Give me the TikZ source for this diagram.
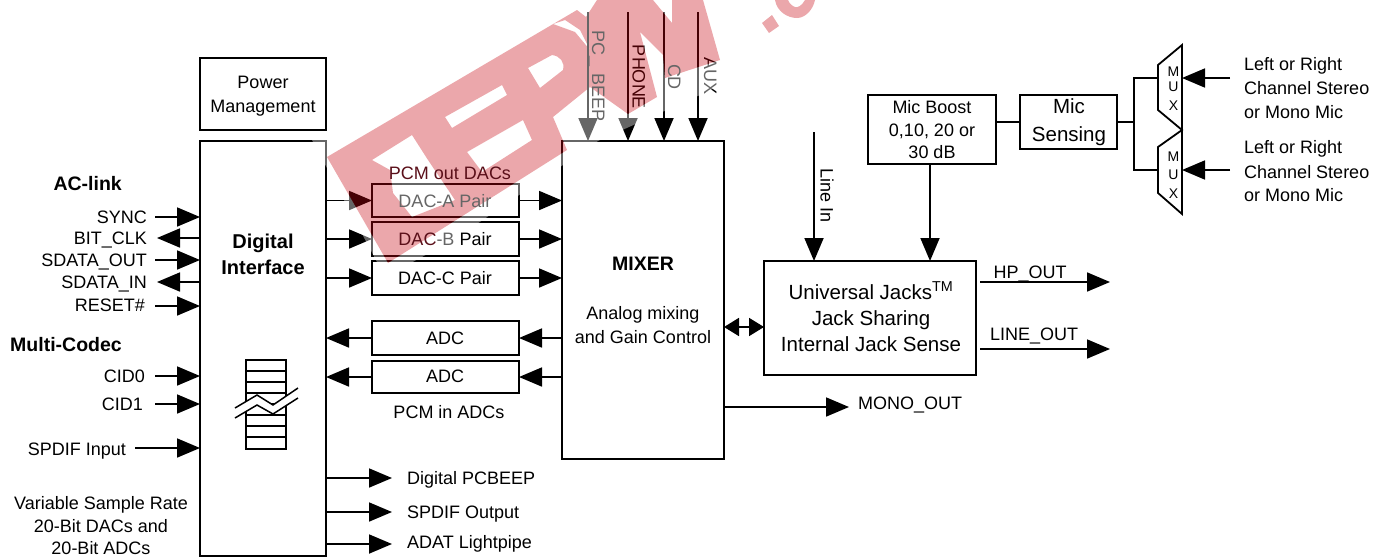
\documentclass[tikz,border=0pt]{standalone}
\usepackage{fontspec}
\setmainfont{Liberation Sans}
\usetikzlibrary{arrows.meta}
\newcommand{\fs}[1]{\fontsize{#1}{#1}\selectfont}
\definecolor{wmred}{RGB}{200,5,15}
\definecolor{dkred}{RGB}{90,15,25}
\definecolor{hazed}{RGB}{102,102,102}
\tikzset{
  x=1pt,y=-1pt,
  line/.style={draw=black,line width=1.8pt},
  arr/.style={line,-{Triangle[length=23pt,width=19pt]}},
  boxn/.style={draw=black,line width=1.8pt,inner sep=0pt,outer sep=0pt},
  lab/.style={inner sep=0pt,font=\fs{18},text height=13pt,text depth=0pt},
  blab/.style={inner sep=0pt,font=\fs{19.5}\bfseries,text height=14pt,text depth=0pt},
  big/.style={inner sep=0pt,font=\fs{20.5},align=center},
  multi/.style={inner sep=0pt,font=\fs{18},align=center},
  vert/.style={inner sep=0pt,font=\fs{18},rotate=-90,text height=13pt,text depth=0pt},
}
\newcommand{\bx}[5]{\node[boxn,minimum width=#3-#1,minimum height=#4-#2,anchor=north west] (#5) at (#1,#2) {};}
\newcommand{\wmletters}{
 (327,157) -- (577,10) -- (586,17) -- (597,0) -- (653,0) -- (672,23) -- (672,0) -- (703,0) -- (720,60) -- (665,78) -- (663,55) -- (640,32) -- (657,97) -- (628,114) -- (590,87) -- (553,117) -- (567,150) -- (388,263) -- cycle
 (372,160) -- (412,135) -- (428,160) -- (455,200) -- (412,217) -- (393,193) -- (390,170) -- cycle
 (445,117) -- (502,85) -- (507,95) -- (452,128) -- cycle
 (467,152) -- (523,120) -- (532,140) -- (482,172) -- cycle
 (528,68) -- (552,55) .. controls (560,56) and (565,62) .. (563,70) -- (540,88) -- cycle
 (553,24) -- (565,20) -- (580,30) -- (590,50) -- (575,32) -- cycle
 (762,23) -- (772,15) -- (779,26) -- (769,33) -- cycle
 (775,0) .. controls (777,12) and (788,18) .. (797,18) .. controls (805,18) and (813,10) .. (815,0) -- (805,0) .. controls (802,6) and (797,8) .. (795,7) .. controls (792,6) and (789,3) .. (788,0) -- cycle
}
\begin{document}
\begin{tikzpicture}
\useasboundingbox (0,0) rectangle (1386,557);
\fill[white] (0,0) rectangle (1386,557);
% boxes
\bx{200}{58}{326}{130}{pm}
\bx{200}{141}{326}{556}{dig}
\bx{562}{141}{724}{459}{mix}
\bx{372}{184}{519}{217}{daca}
\bx{372}{222}{519}{256}{dacb}
\bx{372}{261}{519}{295}{dacc}
\bx{372}{321}{519}{355}{adca}
\bx{372}{361}{519}{393}{adcb}
\bx{764}{261}{976}{375}{uni}
\bx{868}{95}{996}{164}{boost}
\bx{1020}{95}{1117}{149}{sens}
% box labels
\node[multi] (pmt) at (263,96) {Power\\[6pt]Management};
\node[inner sep=0pt,align=center,font=\fs{20}\bfseries] (digt) at (263,254) {Digital\\[6pt]Interface};
\node[lab] (dacct) at (445,278) {DAC-C Pair};
\node[lab] (adcat) at (445,338) {ADC};
\node[lab] (adcbt) at (445,376) {ADC};
\node[blab] (mixt) at (643,263) {MIXER};
\node[multi] (mixs) at (643,325) {Analog mixing\\[6pt]and Gain Control};
\node[big] (unit) at (871,316.5) {Universal Jacks$^{\mathrm{TM}}$\\[5.5pt]Jack Sharing\\[5.5pt]Internal Jack Sense};
\node[multi] (boostt) at (932,130) {Mic Boost\\[5pt]0,10, 20 or\\[4pt]30 dB};
\node[big] (senst) at (1069,122) {Mic\\[7pt]Sensing};
\node[lab] (pcmin) at (449,412) {PCM in ADCs};
% left labels
\node[blab,anchor=east] (ac) at (122,183) {AC-link};
\node[blab,anchor=east] (mc) at (122,344) {Multi-Codec};
\node[lab,anchor=east] (sync) at (147,217) {SYNC};
\node[lab,anchor=east] (bclk) at (147,238) {BIT\_CLK};
\node[lab,anchor=east] (sdo) at (147,260) {SDATA\_OUT};
\node[lab,anchor=east] (sdi) at (147,282) {SDATA\_IN};
\node[lab,anchor=east] (rst) at (145,305) {RESET\#};
\node[lab,anchor=east] (cid0) at (145,376) {CID0};
\node[lab,anchor=east] (cid1) at (143,404) {CID1};
\node[lab,anchor=east] (spi) at (126,449) {SPDIF Input};
\node[multi] (var) at (101,526) {Variable Sample Rate\\[5pt]20-Bit DACs and\\[4pt]20-Bit ADCs};
% left connectors
\coordinate (syncS) at (155,217); \coordinate (bclkE) at (157,238);
\coordinate (sdoS) at (155,260); \coordinate (sdiE) at (157,282);
\coordinate (rstS) at (155,306); \coordinate (cid0S) at (155,376);
\coordinate (cid1S) at (155,404); \coordinate (spiS) at (135,448);
\draw[arr] (syncS) -- (syncS -| dig.west);
\draw[arr] (bclkE -| dig.west) -- (bclkE);
\draw[arr] (sdoS) -- (sdoS -| dig.west);
\draw[arr] (sdiE -| dig.west) -- (sdiE);
\draw[arr] (rstS) -- (rstS -| dig.west);
\draw[arr] (cid0S) -- (cid0S -| dig.west);
\draw[arr] (cid1S) -- (cid1S -| dig.west);
\draw[arr] (spiS) -- (spiS -| dig.west);
% FIFO
\draw[line width=1.5pt] (246,360) rectangle (286,449);
\foreach \yy in {371,382,393,404,415,426,437} \draw[line width=1.5pt] (246,\yy) -- (286,\yy);
\fill[white] (235,408) -- (257,395) -- (273,405) -- (298,388) -- (298,398) -- (273,413) -- (257,405) -- (235,418) -- cycle;
\draw[line width=1.5pt] (235,408) -- (257,395) -- (273,405) -- (298,388);
\draw[line width=1.5pt] (235,418) -- (257,405) -- (273,414) -- (298,398);
% digital to DAC
\draw[arr] (dig.east |- daca.west) -- (daca.west);
\draw[arr] (dig.east |- dacb.west) -- (dacb.west);
\draw[arr] (dig.east |- dacc.west) -- (dacc.west);
\draw[arr] (adca.west) -- (dig.east |- adca.west);
\draw[arr] (adcb.west) -- (dig.east |- adcb.west);
\draw[arr] (daca.east) -- (mix.west |- daca.east);
\draw[arr] (dacb.east) -- (mix.west |- dacb.east);
\draw[arr] (dacc.east) -- (mix.west |- dacc.east);
\draw[arr] (mix.west |- adca.east) -- (adca.east);
\draw[arr] (mix.west |- adcb.east) -- (adcb.east);
% digital outs
\node[lab,anchor=west] (dpc) at (407,478) {Digital PCBEEP};
\node[lab,anchor=west] (sdout) at (407,512) {SPDIF Output};
\node[lab,anchor=west] (adat) at (407,542) {ADAT Lightpipe};
\coordinate (o1) at (392,478); \coordinate (o2) at (392,512); \coordinate (o3) at (392,544);
\draw[arr] (o1 -| dig.east) -- (o1);
\draw[arr] (o2 -| dig.east) -- (o2);
\draw[arr] (o3 -| dig.east) -- (o3);
% top inputs
\coordinate (t1) at (588,12); \coordinate (t2) at (628,12); \coordinate (t3) at (664,12); \coordinate (t4) at (698,12);
\draw[arr] (t2) -- (t2 |- mix.north);
\draw[arr] (t3) -- (t3 |- mix.north);
\draw[arr] (t4) -- (t4 |- mix.north);
\node[vert] (pho) at (639,77) {PHONE};
\node[vert] (aux) at (710.5,76) {AUX};
\coordinate (li) at (814,132);
\draw[arr] (li) -- (li |- uni.north);
\node[vert] (lit) at (827,196) {Line In};
\coordinate (bo) at (930,164);
\draw[arr] (bo) -- (bo |- uni.north);
\draw[line] (boost.east |- sens.west) -- (sens.west);
% right outs
\coordinate (hps) at (980,282); \coordinate (hpe) at (1110,282);
\coordinate (los) at (980,349); \coordinate (loe) at (1110,349);
\draw[arr] (hps) -- (hpe);
\draw[arr] (los) -- (loe);
\node[lab] (hpt) at (1030,272) {HP\_OUT};
\node[lab] (lot) at (1034,334) {LINE\_OUT};
\coordinate (moe) at (849,407);
\draw[arr] (mix.east |- moe) -- (moe);
\node[lab,anchor=west] (mot) at (858,403) {MONO\_OUT};
\coordinate (dbl) at (744,327);
\draw[line,{Triangle[length=15pt,width=18pt]}-{Triangle[length=15pt,width=18pt]}] (mix.east |- dbl) -- (uni.west |- dbl);
% mux
\draw[line,line join=miter] (1182,45) -- (1158,65) -- (1158,110) -- (1182,130) -- (1158,147) -- (1158,193) -- (1182,214) -- cycle;
\coordinate (j) at (1134,122); \coordinate (m1) at (1158,78); \coordinate (m2) at (1158,170);
\draw[line] (sens.east |- j) -- (j);
\draw[line] (m1) -- (m1 -| j) -- (m2 -| j) -- (m2);
\coordinate (i1) at (1230,78); \coordinate (i2) at (1230,170);
\coordinate (e1) at (1182,78); \coordinate (e2) at (1182,170);
\draw[arr] (i1) -- (e1);
\draw[arr] (i2) -- (e2);
\foreach \nm/\ch/\yy in {ma/M/72,mb/U/87,mc2/X/106,md/M/157,me/U/175,mf/X/194}
  \node[inner sep=0pt,font=\fs{14}] (\nm) at (1173.5,\yy) {\ch};
\node[multi,anchor=west,align=left] (l1) at (1244,88) {Left or Right\\[6pt]Channel Stereo\\[6pt]or Mono Mic};
\node[multi,anchor=west,align=left] (l2) at (1244,171) {Left or Right\\[7pt]Channel Stereo\\[5pt]or Mono Mic};
% watermark: a white haze around the letters, then the letters
\fill[white,opacity=0.4,even odd rule] (312,140) -- (555,0) -- (900,0) -- (880,10) -- (700,95) -- (598,141) -- (455,239) -- (385,277) -- cycle \wmletters;
\fill[wmred,opacity=0.35,even odd rule] \wmletters;
% labels that read grey or dark red through the watermark
\draw[line,draw=hazed,-{Triangle[length=23pt,width=19pt]}] (t1) -- (t1 |- mix.north);
\node[vert,text=hazed] (pcb) at (598.5,76) {PC\kern1pt\_\kern7pt BEEP};
\node[vert,text=hazed] (cdt) at (674.5,77) {CD};
\node[lab,text=dkred] (pcmout) at (450,173) {PCM out DACs};
\node[lab,text=hazed] (dacat) at (445,201) {DAC-A Pair};
\node[lab] (dacbt) at (445,239) {\textcolor{dkred}{DAC}\textcolor{hazed}{-B} Pair};
\end{tikzpicture}
\end{document}
